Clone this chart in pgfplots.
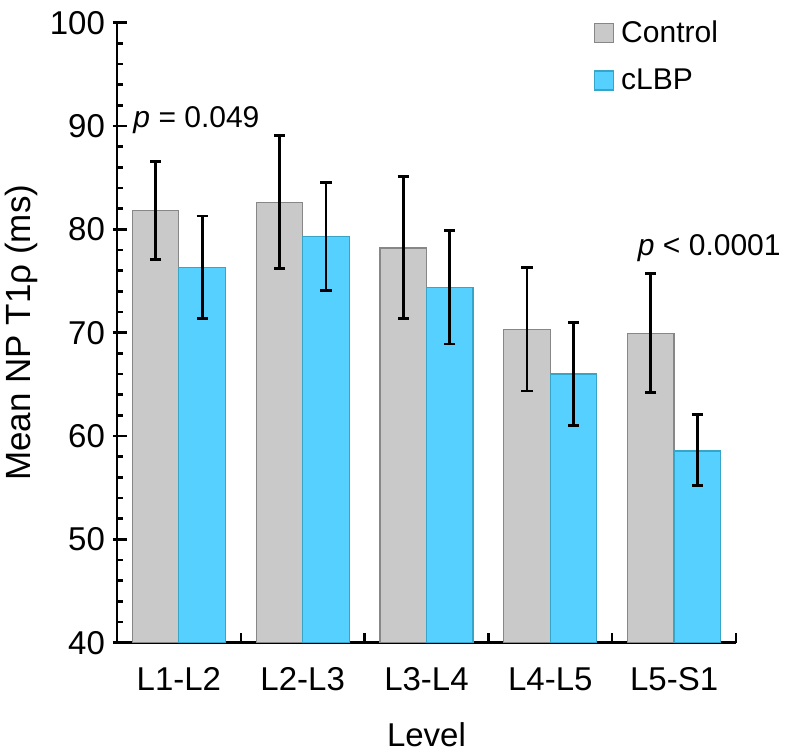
\documentclass[border=0pt]{standalone}
\usepackage{pgfplots}
\usepackage{pgfplotstable}
\pgfplotsset{compat=1.18}
\usepackage{fontspec}
\setmainfont{Liberation Sans}
\definecolor{ctrlfill}{RGB}{200,201,200}
\definecolor{ctrldraw}{RGB}{135,135,135}
\definecolor{lbpfill}{RGB}{85,208,255}
\definecolor{lbpdraw}{RGB}{55,165,200}

\pgfplotstableread{
x y ep em
1 81.8 4.8 4.7
2 82.6 6.5 6.4
3 78.2 6.9 6.8
4 70.3 6.0 5.95
5 69.9 5.8 5.7
}\ctrl
\pgfplotstableread{
x y ep em
1 76.3 5.0 4.9
2 79.3 5.2 5.2
3 74.4 5.5 5.5
4 66.0 5.0 5.0
5 58.55 3.55 3.35
}\lbp

\begin{document}
\begin{tikzpicture}
\useasboundingbox (-58.5pt,-55.65pt) rectangle (334.5pt,321.35pt);
\begin{axis}[
  at={(0,0)}, anchor=south west,
  scale only axis, width=309.5pt, height=310pt,
  xmin=0.5, xmax=5.5, ymin=40, ymax=100,
  clip=false,
  axis lines*=left,
  axis line style={line width=1.4pt,-},
  tick align=inside,
  major tick length=5pt, minor tick length=3pt,
  tick style={line width=1.2pt,black},
  ytick={40,50,...,100}, minor y tick num=4,
  extra y ticks={40,50,...,100}, extra y tick labels={},
  extra y tick style={tick align=outside, major tick length=2pt},
  xtick={1.5,2.5,3.5,4.5,5.5},
  xticklabels={L1-L2,L2-L3,L3-L4,L4-L5,L5-S1},
  xticklabel style={xshift=-30.95pt, yshift=-9pt},
  yticklabel style={xshift=-2.5pt},
  /pgf/number format/assume math mode=true,
  ticklabel style={font=\fontsize{16.5}{19}\selectfont},
  xlabel={Level}, ylabel={Mean NP T1ρ (ms)},
  xlabel style={font=\fontsize{16.5}{19}\selectfont, yshift=-9pt},
  ylabel style={font=\fontsize{17.5}{20}\selectfont, yshift=-3pt},
  legend style={at={(rel axis cs:0.77,1.01)}, anchor=north west, draw=none, fill=none,
    font=\fontsize{15}{18}\selectfont, row sep=7.5pt, inner sep=0pt,
    cells={anchor=west}},
  legend image code/.code={},
  error bars/error bar style={line width=1.4pt,black},
  error bars/error mark options={rotate=90, mark size=2.8pt, line width=1.4pt, black},
]
\addplot[ybar, bar width=0.376, bar shift=0pt, fill=ctrlfill, draw=ctrldraw, line width=0.6pt,
  legend image code/.code={\draw[fill=ctrlfill,draw=ctrldraw,line width=0.6pt] (0pt,-4.75pt) rectangle (9.5pt,4.75pt);},
  error bars/.cd, y dir=both, y explicit]
  table[x expr=\thisrow{x}-0.188,y=y,y error plus=ep,y error minus=em]{\ctrl};
\addlegendentry{\hspace{1.5pt}Control}
\addplot[ybar, bar width=0.376, bar shift=0pt, fill=lbpfill, draw=lbpdraw, line width=0.6pt,
  legend image code/.code={\draw[fill=lbpfill,draw=lbpdraw,line width=0.6pt] (0pt,-4.75pt) rectangle (9.5pt,4.75pt);},
  error bars/.cd, y dir=both, y explicit]
  table[x expr=\thisrow{x}+0.188,y=y,y error plus=ep,y error minus=em]{\lbp};
\addlegendentry{\hspace{1.5pt}cLBP}
\node[anchor=base west, inner sep=0pt, font=\fontsize{15}{18}\selectfont] at (axis cs:0.63,89.9) {\textit{p} = 0.049};
\node[anchor=base west, inner sep=0pt, font=\fontsize{15}{18}\selectfont] at (axis cs:4.705,77.45) {\textit{p} < 0.0001};
\end{axis}
\end{tikzpicture}
\end{document}
